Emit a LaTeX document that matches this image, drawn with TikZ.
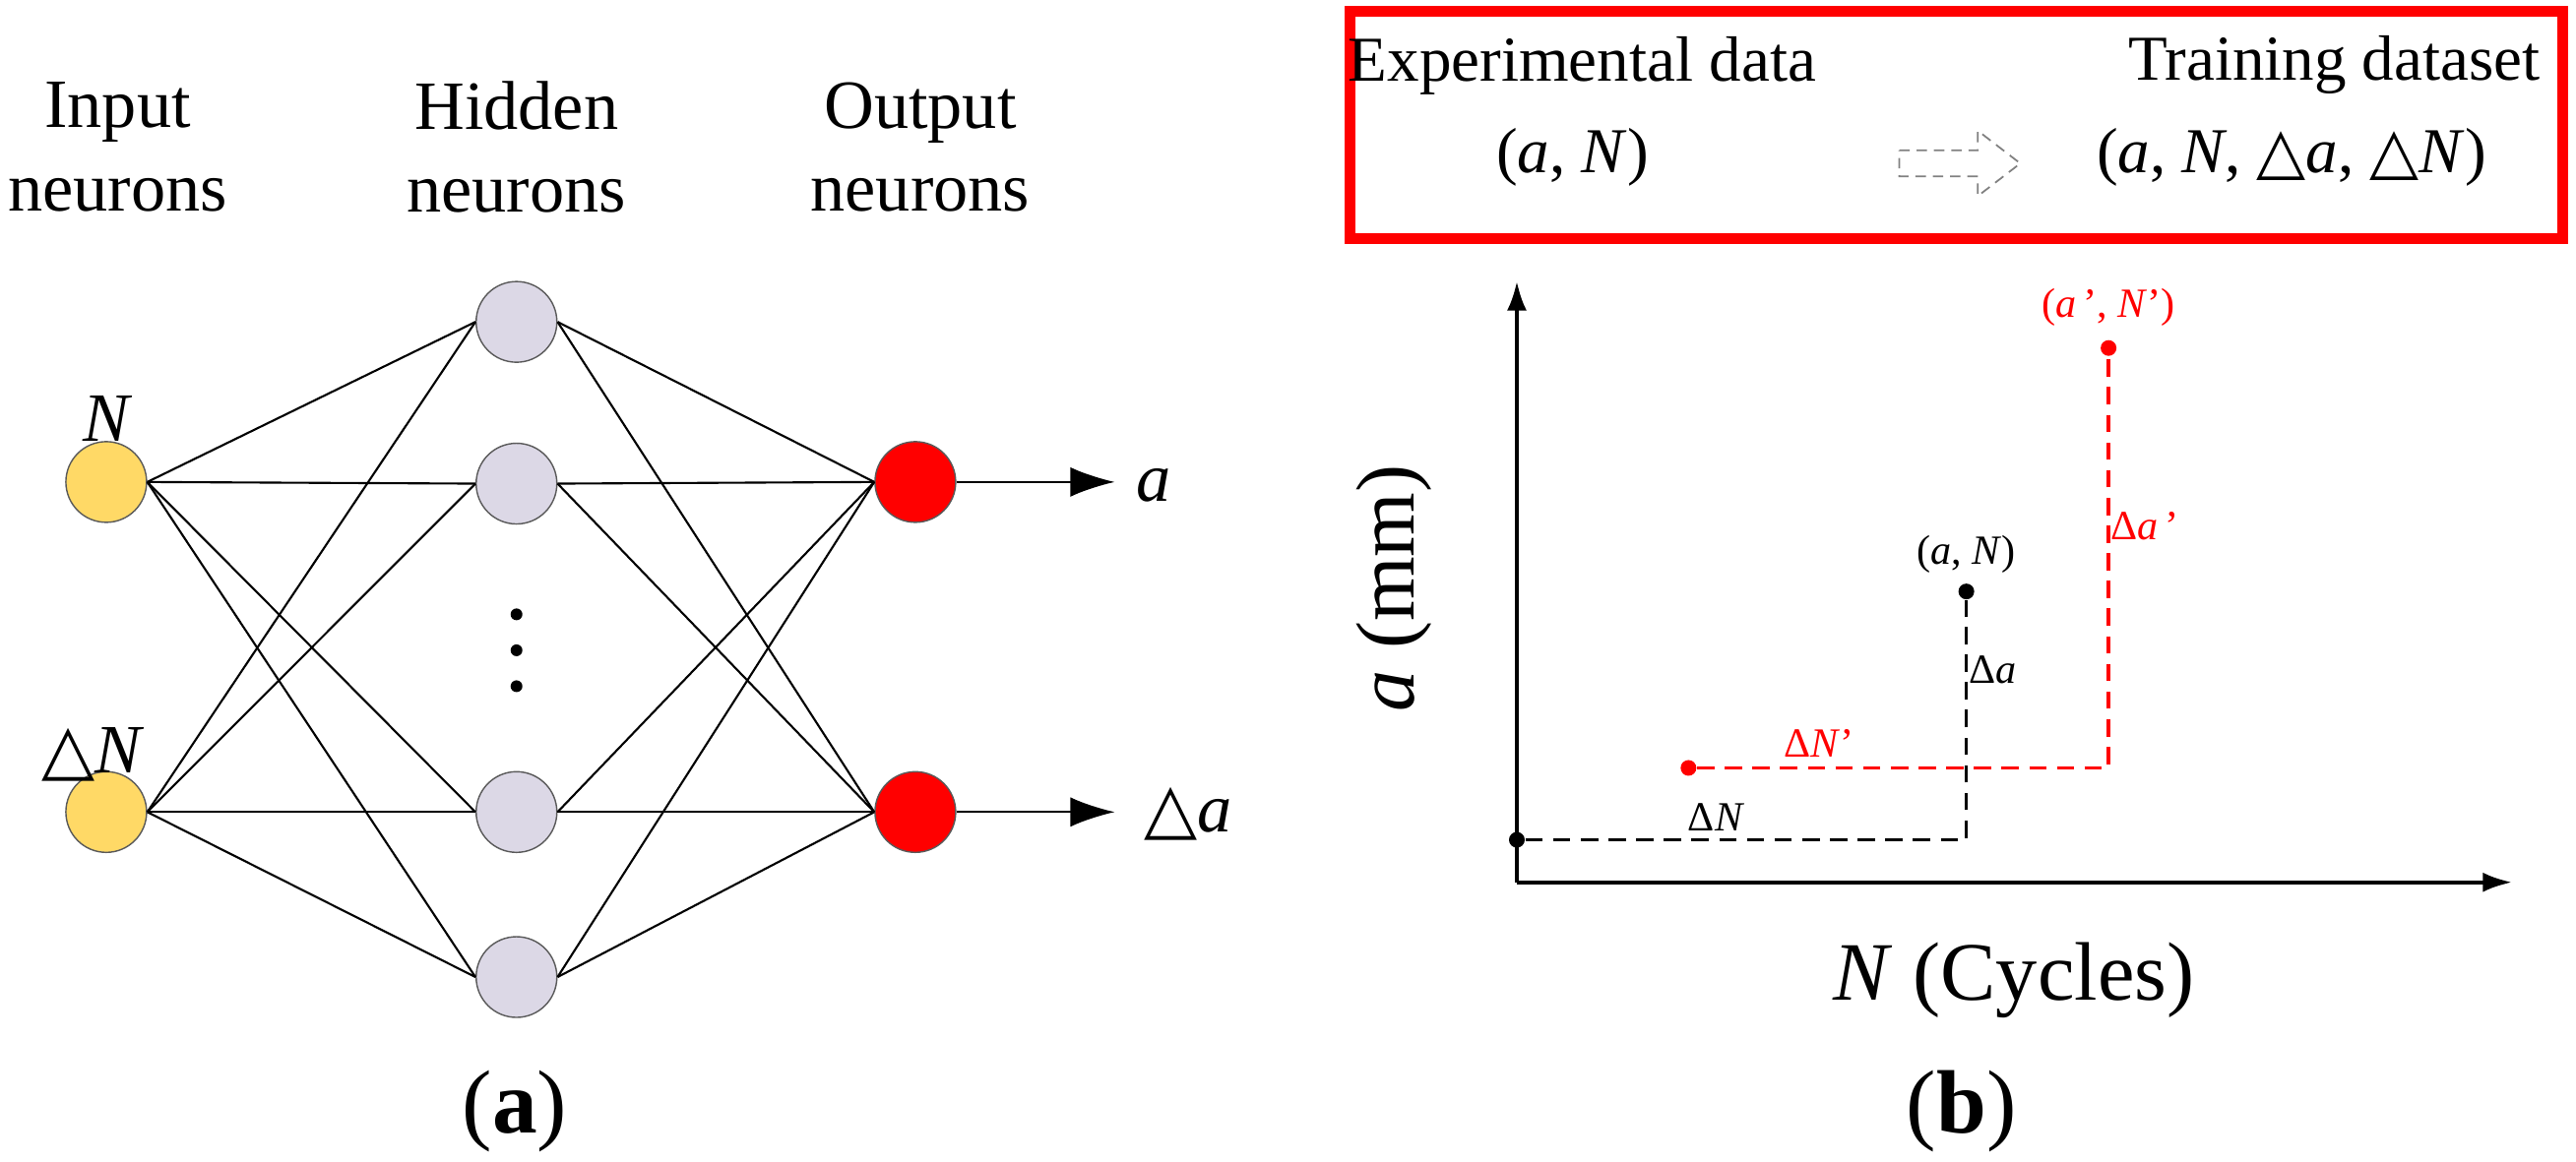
\documentclass[tikz,border=0pt]{standalone}
\usepackage{fontspec}
\setmainfont{Liberation Serif}
\newfontfamily\djv{DejaVu Sans}
\usetikzlibrary{arrows.meta}
\definecolor{inyel}{HTML}{FFD966}
\definecolor{hidlav}{HTML}{DCD8E6}
\newcommand{\tri}{{\djv\char"25B3}}
\begin{document}
\begin{tikzpicture}[x=0.0166cm,y=-0.0166cm,
  neuron/.style={circle,draw=gray!70!black,line width=0.4pt,minimum size=0.82cm,inner sep=0pt},
  conn/.style={line width=0.6pt},
  hdr/.style={font=\fontsize{20}{24}\selectfont,align=center},
  bx/.style={font=\fontsize{18.5}{22}\selectfont,align=center},
  lbl/.style={font=\fontsize{20}{24}\selectfont},
  sm/.style={font=\fontsize{12}{14}\selectfont},
  dsh/.style={line width=1pt,dash pattern=on 5pt off 3pt},
  dot/.style={circle,fill,inner sep=0pt,minimum size=0.16cm}]
\useasboundingbox (0,0) rectangle (1576,711);
% ---------- panel (a)
\node[hdr] (h1) at (72,90) {Input\\neurons};
\node[hdr] (h2) at (316,90) {Hidden\\neurons};
\node[hdr] (h3) at (563,90) {Output\\neurons};
\node[neuron,fill=inyel] (i1) at (65,295) {};
\node[neuron,fill=inyel] (i2) at (65,497) {};
\foreach \n/\y in {1/197,2/296,3/497,4/598}{\node[neuron,fill=hidlav] (hd\n) at (316,\y) {};}
\node[neuron,fill=red] (o1) at (560,295) {};
\node[neuron,fill=red] (o2) at (560,497) {};
\foreach \i in {1,2}{\foreach \h in {1,2,3,4}{\draw[conn] (i\i.east) -- (hd\h.west); \draw[conn] (hd\h.east) -- (o\i.west);}}
\foreach \n/\y in {d1/376,d2/398,d3/420}{\node[dot,minimum size=0.12cm] (\n) at (316,\y) {};}
\coordinate (e1) at (682,295); \coordinate (e2) at (682,497);
\draw[conn,-{Latex[length=0.45cm,width=0.3cm]}] (o1.east) -- (e1);
\draw[conn,-{Latex[length=0.45cm,width=0.3cm]}] (o2.east) -- (e2);
\node[lbl] (la) at (706,297) {\textit{a}};
\node[lbl] (lda) at (727,498) {\tri\textit{a}};
\node[lbl] (lN) at (66,256) {\textit{N}};
\node[lbl] (ldN) at (57,462) {\tri\textit{N}};
\node[font=\fontsize{26}{30}\selectfont] (capa) at (315,680) {(\textbf{a})};
% ---------- panel (b)
\draw[red,line width=3pt] (826,7) rectangle (1568,146);
\node[bx] (t1) at (968,40) {Experimental data};
\node[bx] (t2) at (962,96) {(\textit{a}, \textit{N})};
\node[bx] (t3) at (1428,40) {Training dataset};
\node[bx] (t4) at (1402,96) {(\textit{a}, \textit{N}, \tri\textit{a}, \tri\textit{N})};
\draw[gray,densely dashed,line width=0.5pt] (1162,92) -- (1210,92) -- (1210,80) -- (1236,100) -- (1210,120) -- (1210,108) -- (1162,108) -- cycle;
% axes
\coordinate (org) at (928,540);
\coordinate (ytop) at (928,172);
\coordinate (xend) at (1537,540);
\draw[line width=1.2pt,-{Latex[length=0.3cm,width=0.2cm]}] (org) -- (ytop);
\draw[line width=1.2pt,-{Latex[length=0.3cm,width=0.2cm]}] (org) -- (xend);
\node[dot] (p0) at (928,514) {};
\node[dot] (p1) at (1203,362) {};
\coordinate (c1) at (1203,514);
\draw[dsh] (p0) -- (c1) -- (p1);
\node[dot,red] (q0) at (1033,470) {};
\node[dot,red] (q1) at (1290,213) {};
\coordinate (c2) at (1290,470);
\draw[dsh,red] (q0) -- (c2) -- (q1);
\node[sm] (lp1) at (1203,339) {(\textit{a}, \textit{N})};
\node[sm] (lda2) at (1219,410) {Δ\textit{a}};
\node[sm] (ldN2) at (1050,500) {Δ\textit{N}};
\node[sm,red] (lq1) at (1290,188) {(\textit{a}\,’, \textit{N}’)};
\node[sm,red] (ldaq) at (1312,322) {Δ\textit{a}\,’};
\node[sm,red] (ldNq) at (1113,455) {Δ\textit{N}’};
\node[font=\fontsize{24}{28}\selectfont,rotate=90] (ya) at (853,360) {\textit{a} (mm)};
\node[font=\fontsize{24}{28}\selectfont] (xa) at (1232,600) {\textit{N} (Cycles)};
\node[font=\fontsize{26}{30}\selectfont] (capb) at (1200,680) {(\textbf{b})};
\end{tikzpicture}
\end{document}
